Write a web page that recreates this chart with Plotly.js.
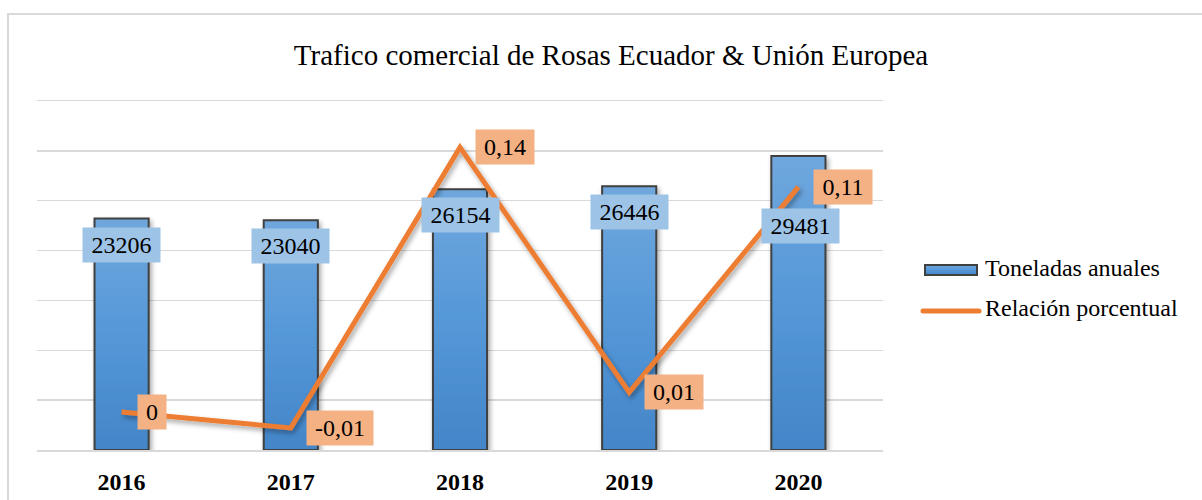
<!DOCTYPE html>
<html>
<head>
<meta charset="utf-8">
<script src="https://cdn.plot.ly/plotly-3.0.1.min.js"></script>
<style>
  html, body { margin: 0; padding: 0; background: #fff; }
  #wrap { position: relative; width: 1202px; height: 500px; overflow: hidden; }
  #chart { width: 1202px; height: 500px; }
  #frame { position: absolute; left: 7px; top: 13px; width: 1300px; height: 600px;
           border-top: 2px solid #D9D9D9; border-left: 2px solid #D9D9D9; pointer-events: none; }
</style>
</head>
<body>
<div id="wrap">
  <div id="chart"></div>
  <div id="frame"></div>
</div>
<script>
// ---- data ----
const years = ['2016', '2017', '2018', '2019', '2020'];
const toneladas = [23206, 23040, 26154, 26446, 29481];
const relacion = [0.001, -0.007, 0.135, 0.011, 0.115];
const relacionLabels = ['0', '-0,01', '0,14', '0,01', '0,11'];
const seriesNames = ['Toneladas anuales', 'Relación porcentual'];
const chartTitle = 'Trafico comercial de Rosas Ecuador & Unión Europea';

const FONT = '"Liberation Serif", "Times New Roman", serif';
const FS = 24;

// plot-area geometry (pixels) used to place the hand-drawn legend in paper coords
const PL = 37, PR = 883, PT = 101, PB = 450;
const px2x = p => (p - PL) / (PR - PL);
const px2y = p => (PB - p) / (PB - PT);

const xPos = years.map((y, i) => i);

function textWidth(s) {
  let w = 0;
  for (const ch of s) {
    if (/[0-9]/.test(ch)) w += 0.5;
    else if (ch === ',') w += 0.25;
    else if (ch === '-') w += 0.333;
    else w += 0.5;
  }
  return w * FS;
}

const barTrace = {
  type: 'bar', name: seriesNames[0], x: xPos, y: toneladas,
  marker: { color: '#5B9BD5', line: { color: '#404040', width: 2 } },
  width: 0.32, hoverinfo: 'none', showlegend: false
};
const lineTrace = {
  type: 'scatter', mode: 'lines', name: seriesNames[1], x: xPos, y: relacion,
  yaxis: 'y2', line: { color: '#ED7D31', width: 5 }, hoverinfo: 'none', showlegend: false
};

const annotations = [];
xPos.forEach((xv, i) => {
  const t = String(toneladas[i]);
  annotations.push({
    x: xv, y: toneladas[i], xref: 'x', yref: 'y', text: t, showarrow: false,
    xanchor: 'center', yanchor: 'middle', yshift: (i === 4 ? -70 : -26), xshift: (i === 4 ? 2 : 0),
    bgcolor: '#9DC3E6', borderpad: 4, width: textWidth(t) + 9,
    font: { family: FONT, size: FS, color: '#000' }
  });
  const l = relacionLabels[i];
  annotations.push({
    x: xv, y: relacion[i], xref: 'x', yref: 'y2', text: l, showarrow: false,
    xanchor: 'left', yanchor: 'middle', xshift: 15, yshift: 0,
    bgcolor: '#F4B183', borderpad: 4, width: textWidth(l) + 8,
    font: { family: FONT, size: FS, color: '#000' }
  });
});
// legend texts
annotations.push({ x: px2x(983), y: px2y(268), xref: 'paper', yref: 'paper', text: seriesNames[0],
  showarrow: false, xanchor: 'left', yanchor: 'middle', font: { family: FONT, size: FS, color: '#000' } });
annotations.push({ x: px2x(983), y: px2y(308), xref: 'paper', yref: 'paper', text: seriesNames[1],
  showarrow: false, xanchor: 'left', yanchor: 'middle', font: { family: FONT, size: FS, color: '#000' } });

const shapes = [
  { type: 'rect', xref: 'paper', yref: 'paper', x0: px2x(925), x1: px2x(977), y0: px2y(275), y1: px2y(265),
    fillcolor: '#5B9BD5', line: { color: '#404040', width: 2 }, name: 'legBar' },
  { type: 'line', xref: 'paper', yref: 'paper', x0: px2x(923), x1: px2x(979), y0: px2y(311), y1: px2y(311),
    line: { color: '#ED7D31', width: 5 }, name: 'legLine' }
];

const layout = {
  width: 1202, height: 500,
  margin: { l: PL, r: 1202 - PR, t: PT, b: 500 - PB },
  paper_bgcolor: 'rgba(0,0,0,0)', plot_bgcolor: 'rgba(0,0,0,0)',
  font: { family: FONT, size: FS, color: '#000' },
  title: { text: chartTitle, x: 611 / 1202, xanchor: 'center', xref: 'container',
           y: 1 - 55 / 500, yanchor: 'middle', yref: 'container',
           font: { family: FONT, size: 29, color: '#000' } },
  showlegend: false,
  xaxis: { range: [-0.5, 4.5], tickvals: xPos, ticktext: years, showgrid: false, zeroline: false,
           showline: true, linecolor: '#D9D9D9', linewidth: 1.5, mirror: true,
           ticks: '', ticklabelstandoff: 10,
           tickfont: { family: FONT, size: FS, color: '#000', weight: 'bold' }, fixedrange: true },
  yaxis: { range: [0, 35000], dtick: 5000, showticklabels: false, gridcolor: '#D9D9D9',
           gridwidth: 1.5, zeroline: false, showline: false, ticks: '', fixedrange: true },
  yaxis2: { overlaying: 'y', side: 'right', range: [-0.0182, 0.1585], visible: false,
            showgrid: false, zeroline: false, fixedrange: true },
  annotations: annotations,
  shapes: shapes
};

Plotly.newPlot('chart', [barTrace, lineTrace], layout, { staticPlot: true, displayModeBar: false })
.then(function (gd) {
  const svg = gd.querySelector('svg.main-svg');
  const NS = 'http://www.w3.org/2000/svg';
  let defs = svg.querySelector('defs');
  if (!defs) { defs = document.createElementNS(NS, 'defs'); svg.insertBefore(defs, svg.firstChild); }
  const grad = document.createElementNS(NS, 'linearGradient');
  grad.setAttribute('id', 'barGrad'); grad.setAttribute('x1', '0'); grad.setAttribute('y1', '0');
  grad.setAttribute('x2', '0'); grad.setAttribute('y2', '1');
  [['0', '#6FA7DD'], ['0.5', '#5598D8'], ['1', '#4385C8']].forEach(([o, c]) => {
    const s = document.createElementNS(NS, 'stop'); s.setAttribute('offset', o); s.setAttribute('stop-color', c); grad.appendChild(s);
  });
  defs.appendChild(grad);
  const filt = document.createElementNS(NS, 'filter');
  filt.setAttribute('id', 'shadow'); filt.setAttribute('x', '-30%'); filt.setAttribute('y', '-30%');
  filt.setAttribute('width', '160%'); filt.setAttribute('height', '160%');
  const ds = document.createElementNS(NS, 'feDropShadow');
  ds.setAttribute('dx', '2'); ds.setAttribute('dy', '3'); ds.setAttribute('stdDeviation', '2.5');
  ds.setAttribute('flood-color', '#000'); ds.setAttribute('flood-opacity', '0.35');
  filt.appendChild(ds); defs.appendChild(filt);

  gd.querySelectorAll('.barlayer .point path').forEach(p => {
    p.style.fill = 'url(#barGrad)';
    p.setAttribute('filter', 'url(#shadow)');
  });
  gd.querySelectorAll('.scatterlayer .js-line').forEach(p => {
    p.setAttribute('filter', 'url(#shadow)');
    p.style.strokeLinejoin = 'miter';
  });
  gd.querySelectorAll('.shapelayer path').forEach(p => {
    if (p.getAttribute('data-index') === '0') p.style.fill = 'url(#barGrad)';
    if (p.getAttribute('data-index') === '1') p.style.strokeLinecap = 'round';
  });
});
</script>
</body>
</html>
